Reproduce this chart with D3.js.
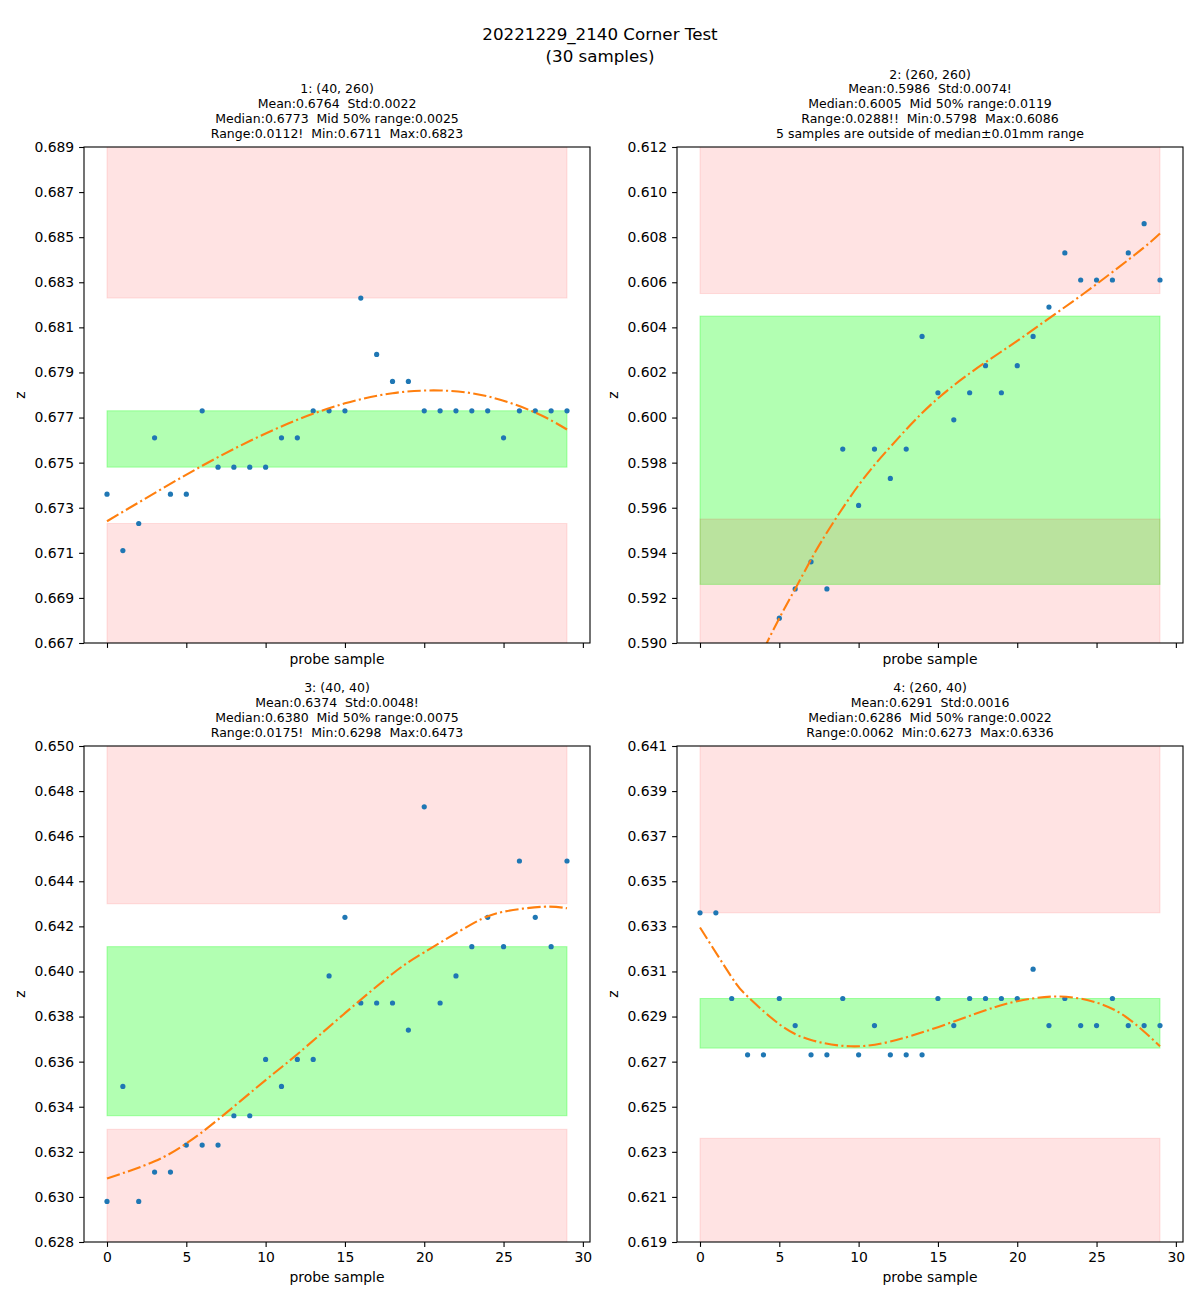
<!DOCTYPE html>
<html>
<head>
<meta charset="utf-8">
<script src="https://cdn.jsdelivr.net/npm/d3@7/dist/d3.min.js"></script>
<style>
    body { margin: 0; background: #fff; }
    svg text { font-family: "DejaVu Sans", sans-serif; white-space: pre; }
</style>
</head>
<body>
<div id="chart"></div>
<script>
// ---------------------------------------------------------------
// Values
// ---------------------------------------------------------------
const sampleIndex = d3.range(30);          // probe samples 0..29

// measured z per corner
const z1 = [0.6736, 0.6711, 0.6723, 0.6761, 0.6736, 0.6736, 0.6773, 0.6748, 0.6748, 0.6748,
            0.6748, 0.6761, 0.6761, 0.6773, 0.6773, 0.6773, 0.6823, 0.6798, 0.6786, 0.6786,
            0.6773, 0.6773, 0.6773, 0.6773, 0.6773, 0.6761, 0.6773, 0.6773, 0.6773, 0.6773];
const z2 = [0.5798, 0.5848, 0.5873, 0.5886, 0.5898, 0.5911, 0.5924, 0.5936, 0.5924, 0.5986,
            0.5961, 0.5986, 0.5973, 0.5986, 0.6036, 0.6011, 0.5999, 0.6011, 0.6023, 0.6011,
            0.6023, 0.6036, 0.6049, 0.6073, 0.6061, 0.6061, 0.6061, 0.6073, 0.6086, 0.6061];
const z3 = [0.6298, 0.6349, 0.6298, 0.6311, 0.6311, 0.6323, 0.6323, 0.6323, 0.6336, 0.6336,
            0.6361, 0.6349, 0.6361, 0.6361, 0.6398, 0.6424, 0.6386, 0.6386, 0.6386, 0.6374,
            0.6473, 0.6386, 0.6398, 0.6411, 0.6424, 0.6411, 0.6449, 0.6424, 0.6411, 0.6449];
const z4 = [0.6336, 0.6336, 0.6298, 0.6273, 0.6273, 0.6298, 0.6286, 0.6273, 0.6273, 0.6298,
            0.6273, 0.6286, 0.6273, 0.6273, 0.6273, 0.6298, 0.6286, 0.6298, 0.6298, 0.6298,
            0.6298, 0.6311, 0.6286, 0.6298, 0.6286, 0.6286, 0.6298, 0.6286, 0.6286, 0.6286];

// fitted trend (dash-dot orange)
const fitX1 = [0, 3, 6, 9, 12, 15, 18, 21, 24, 27, 29];
const fitY1 = [0.6724, 0.67365, 0.67486, 0.67596, 0.6769, 0.67763, 0.67808, 0.6782, 0.67794, 0.67722, 0.67647];
const fitX2 = [4, 5, 6, 7, 8, 10, 12, 14, 16, 18, 20, 22, 24, 26, 28, 29];
const fitY2 = [0.5897, 0.5911, 0.5924, 0.5937, 0.5949, 0.5970, 0.5987, 0.6002, 0.60143, 0.60245,
               0.6034, 0.6044, 0.6054, 0.60645, 0.60755, 0.60816];
const fitX3 = [0, 3, 5, 7, 10, 12, 15, 18, 20, 23, 25, 27.5, 29];
const fitY3 = [0.63082, 0.63158, 0.63237, 0.63343, 0.63518, 0.63633, 0.63815, 0.6399, 0.64085, 0.6421, 0.64265, 0.64287, 0.6428];
const fitX4 = [0, 2, 3, 5, 7, 9.5, 12, 15, 18, 20, 22.5, 25, 27, 29];
const fitY4 = [0.63295, 0.63074, 0.62989, 0.62866, 0.62796, 0.62768, 0.62789, 0.62853, 0.62928, 0.62968, 0.62989, 0.62962, 0.62891, 0.62768];

// median and quartiles (green band = q1..q3, red bands outside median +/- tolerance)
const medians = [0.6773, 0.6005, 0.6380, 0.6286];
const q1s     = [0.6748, 0.5926, 0.6336, 0.6276];
const q3s     = [0.6773, 0.6045, 0.6411, 0.6298];
const tolerance = 0.005;

// y axis ranges and tick spacing
const yDomains = [[0.667, 0.689], [0.590, 0.612], [0.628, 0.650], [0.619, 0.641]];
const yTickStep = 0.002;
const xTicks = [0, 5, 10, 15, 20, 25, 30];

const figTitle = ['20221229_2140 Corner Test', '(30 samples)'];
const panelTitles = [
    ['1: (40, 260)', 'Mean:0.6764  Std:0.0022', 'Median:0.6773  Mid 50% range:0.0025',
     'Range:0.0112!  Min:0.6711  Max:0.6823'],
    ['2: (260, 260)', 'Mean:0.5986  Std:0.0074!', 'Median:0.6005  Mid 50% range:0.0119',
     'Range:0.0288!!  Min:0.5798  Max:0.6086', '5 samples are outside of median\u00b10.01mm range'],
    ['3: (40, 40)', 'Mean:0.6374  Std:0.0048!', 'Median:0.6380  Mid 50% range:0.0075',
     'Range:0.0175!  Min:0.6298  Max:0.6473'],
    ['4: (260, 40)', 'Mean:0.6291  Std:0.0016', 'Median:0.6286  Mid 50% range:0.0022',
     'Range:0.0062  Min:0.6273  Max:0.6336']
];

/**
 * One corner subplot: bands, samples and trend line.
 */
class ProbePanel {

    g; x; y; w; h; id;

    constructor(svg, id, left, top, width, height) {
        this.id = id;
        this.w = width;
        this.h = height;
        this.g = svg.append('g').attr('transform', `translate(${left},${top})`);
        this.x = d3.scaleLinear().domain([-1.45, 30.45]).range([0, width]);

        this.g.append('clipPath').attr('id', `clip${id}`)
            .append('rect').attr('width', width).attr('height', height);
    }

    render({z, fitX, fitY, yDomain, q1, q3, median, title, showXLabels}) {
        const x = this.x;
        const y = this.y = d3.scaleLinear().domain(yDomain).range([this.h, 0]);
        const plot = this.g.append('g').attr('clip-path', `url(#clip${this.id})`);

        // interquartile band
        plot.append('rect')
            .attr('x', x(0)).attr('width', x(29) - x(0))
            .attr('y', y(q3)).attr('height', y(q1) - y(q3))
            .attr('fill', '#00ff00').attr('fill-opacity', 0.3)
            .attr('stroke', '#00ff00').attr('stroke-opacity', 0.3);

        // out-of-tolerance bands above and below the median
        const red = [[median + tolerance, yDomain[1] + 1], [yDomain[0] - 1, median - tolerance]];
        plot.selectAll('rect.tol')
            .data(red)
            .join('rect')
            .classed('tol', true)
            .attr('x', x(0)).attr('width', x(29) - x(0))
            .attr('y', d => y(d[1])).attr('height', d => y(d[0]) - y(d[1]))
            .attr('fill', 'red').attr('fill-opacity', 0.11)
            .attr('stroke', 'red').attr('stroke-opacity', 0.11);

        plot.selectAll('circle.pt')
            .data(z)
            .join('circle')
            .classed('pt', true)
            .attr('cx', (d, i) => x(sampleIndex[i]))
            .attr('cy', d => y(d))
            .attr('r', 2.6)
            .attr('fill', '#1f77b4');

        const line = d3.line()
            .x(d => x(d[0]))
            .y(d => y(d[1]))
            .curve(d3.curveNatural);
        plot.append('path')
            .attr('d', line(fitX.map((v, i) => [v, fitY[i]])))
            .attr('fill', 'none')
            .attr('stroke', '#ff7f0e')
            .attr('stroke-width', 2.1)
            .attr('stroke-dasharray', '13.3,3.3,2.1,3.3');

        // axes
        const yTicks = d3.range(yDomain[0], yDomain[1] + yTickStep / 2, yTickStep);
        const ya = this.g.append('g')
            .call(d3.axisLeft(y).tickValues(yTicks).tickFormat(d3.format('.3f'))
                .tickSize(4.9).tickPadding(4.9).tickSizeOuter(0));
        const xa = this.g.append('g').attr('transform', `translate(0,${this.h})`)
            .call(d3.axisBottom(x).tickValues(xTicks)
                .tickFormat(showXLabels ? d3.format('d') : '')
                .tickSize(4.9).tickPadding(4.9).tickSizeOuter(0));
        [ya, xa].forEach(a => {
            a.select('.domain').remove();
            a.selectAll('line').attr('stroke', '#000').attr('stroke-width', 1.1);
            a.selectAll('text').attr('font-size', 13.9).attr('fill', '#000')
                .attr('font-family', '"DejaVu Sans", sans-serif');
        });

        this.g.append('rect')
            .attr('width', this.w).attr('height', this.h)
            .attr('fill', 'none').attr('stroke', '#000').attr('stroke-width', 1.1);

        this.g.append('text')
            .attr('transform', `translate(-59,${this.h / 2}) rotate(-90)`)
            .attr('text-anchor', 'middle').attr('font-size', 13.9)
            .text('z');
        this.g.append('text')
            .attr('x', this.w / 2).attr('y', this.h + (showXLabels ? 40 : 21))
            .attr('text-anchor', 'middle').attr('font-size', 13.9)
            .text('probe sample');

        // multi-line subplot title, bottom line sits just above the frame
        this.g.selectAll('text.title')
            .data(title)
            .join('text')
            .classed('title', true)
            .attr('x', this.w / 2)
            .attr('y', (d, i) => -9.5 - (title.length - 1 - i) * 14.7)
            .attr('text-anchor', 'middle')
            .attr('font-size', 12.5)
            .text(d => d);
        return this;
    }
}

const svg = d3.select('#chart').append('svg')
    .attr('width', 1200).attr('height', 1300);

svg.selectAll('text.fig')
    .data(figTitle)
    .join('text')
    .classed('fig', true)
    .attr('x', 600).attr('y', (d, i) => 40 + i * 22)
    .attr('text-anchor', 'middle').attr('font-size', 16.7)
    .text(d => d);

const boxes = [[84, 147], [677, 147], [84, 746], [677, 746]];
const zs = [z1, z2, z3, z4];
const fitXs = [fitX1, fitX2, fitX3, fitX4];
const fitYs = [fitY1, fitY2, fitY3, fitY4];

boxes.forEach((b, i) => {
    new ProbePanel(svg, i, b[0], b[1], 506, 496).render({
        z: zs[i], fitX: fitXs[i], fitY: fitYs[i], yDomain: yDomains[i],
        q1: q1s[i], q3: q3s[i], median: medians[i],
        title: panelTitles[i], showXLabels: i >= 2
    });
});
</script>
</body>
</html>
